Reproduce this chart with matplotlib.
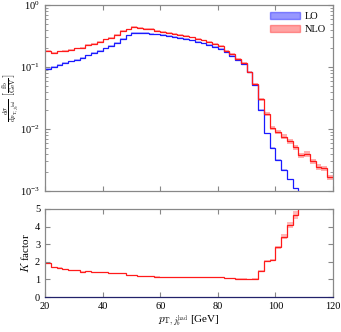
import numpy as np
import matplotlib.pyplot as plt
from matplotlib.patches import Patch

plt.rcParams['font.family'] = ['Liberation Serif', 'DejaVu Serif']
plt.rcParams['mathtext.fontset'] = 'cm'

# bin edges of the pT distribution [GeV]
edges = np.arange(20, 122, 2)

# LO and NLO cross sections per bin [fb/GeV]
lo = [0.094, 0.1005, 0.107, 0.115, 0.123, 0.131, 0.141, 0.154, 0.168, 0.182,
      0.199, 0.216, 0.245, 0.282, 0.324, 0.357, 0.355, 0.350, 0.343, 0.335,
      0.326, 0.317, 0.305, 0.293, 0.280, 0.268, 0.255, 0.240, 0.225, 0.210,
      0.193, 0.172, 0.150, 0.130, 0.110, 0.082, 0.051, 0.0202, 0.0085, 0.0049,
      0.0032, 0.0022, 0.00154, 0.0011, 0.0007, 0.0006, 0.00045, 0.00035, 0.0003, 0.0002]
nlo = [0.1795, 0.1688, 0.1787, 0.1806, 0.188, 0.200, 0.203, 0.228, 0.239, 0.255,
       0.279, 0.292, 0.331, 0.378, 0.405, 0.446, 0.422, 0.417, 0.408, 0.385,
       0.365, 0.355, 0.342, 0.328, 0.314, 0.300, 0.286, 0.269, 0.252, 0.235,
       0.216, 0.182, 0.161, 0.1365, 0.1155, 0.0845, 0.053, 0.0303, 0.0174, 0.0103,
       0.0090, 0.00755, 0.0063, 0.00513, 0.0038, 0.0040, 0.0030, 0.00246, 0.00234, 0.00166]
# relative scale-uncertainty half widths
lo_unc = 0.03
nlo_unc = [0.03] * 36 + [0.05, 0.06, 0.07, 0.07, 0.08, 0.08, 0.09, 0.09, 0.09, 0.1, 0.1, 0.1, 0.1, 0.1]

lo = np.array(lo)
nlo = np.array(nlo)
nlo_unc = np.array(nlo_unc)
kfac = nlo / lo

blue = '#1a1aff'
red = '#ff1a1a'
spine_col = '#888888'

fig = plt.figure(figsize=(3.41, 3.32), dpi=100)
ax1 = fig.add_axes([0.132, 0.4247, 0.8445, 0.5603])
ax2 = fig.add_axes([0.132, 0.1054, 0.8445, 0.2651])

# top panel
ax1.stairs(lo * (1 + lo_unc), edges, baseline=lo * (1 - lo_unc), fill=True,
           color=blue, alpha=0.3, lw=0)
ax1.stairs(nlo * (1 + nlo_unc), edges, baseline=nlo * (1 - nlo_unc), fill=True,
           color=red, alpha=0.35, lw=0)
ax1.stairs(lo, edges, color=blue, lw=0.9, baseline=None)
ax1.stairs(nlo, edges, color=red, lw=0.9, baseline=None)
ax1.set_yscale('log')
ax1.set_xlim(20, 120)
ax1.set_ylim(1e-3, 1)
ax1.set_xticks([20, 40, 60, 80, 100, 120])
ax1.set_xticklabels([])
ax1.set_ylabel(r'$\frac{\mathrm{d}\sigma}{\mathrm{d}p_{\mathrm{T},j_b^{\mathrm{had}}}}\ \left[\frac{\mathrm{fb}}{\mathrm{GeV}}\right]$',
               fontsize=7)
ax1.yaxis.set_label_coords(-0.085, 0.5)

handles = [Patch(facecolor=blue, alpha=0.45, edgecolor=blue, label='LO'),
           Patch(facecolor=red, alpha=0.4, edgecolor=red, label='NLO')]
leg = ax1.legend(handles=handles, loc='upper right', frameon=False, fontsize=7.5,
                 handlelength=2.9, handleheight=0.6, borderaxespad=0.3, labelspacing=0.35,
                 handletextpad=0.4)

# bottom panel: K factor
kband = nlo_unc * 0.5
ax2.stairs(kfac * (1 + kband), edges, baseline=kfac * (1 - kband), fill=True,
           color=red, alpha=0.3, lw=0)
ax2.stairs(kfac, edges, color=red, lw=0.9, baseline=None)
ax2.set_xlim(20, 120)
ax2.set_ylim(0, 5)
ax2.set_xticks([20, 40, 60, 80, 100, 120])
ax2.set_yticks([0, 1, 2, 3, 4, 5])
ax2.set_ylabel(r'$K$ factor', fontsize=8, labelpad=3)
ax2.set_xlabel(r'$p_{\mathrm{T},j_b^{\mathrm{had}}}$ [GeV]', fontsize=8, labelpad=2)

for ax in (ax1, ax2):
    ax.tick_params(which='both', direction='in', top=True, right=True,
                   labelsize=7.5, color=spine_col)
    ax.tick_params(which='major', length=3.5)
    ax.tick_params(which='minor', length=2)
    for s in ax.spines.values():
        s.set_color(spine_col)
        s.set_linewidth(0.9)
ax2.spines['bottom'].set_color('#22226a')

fig.savefig('out.png', dpi=100)
